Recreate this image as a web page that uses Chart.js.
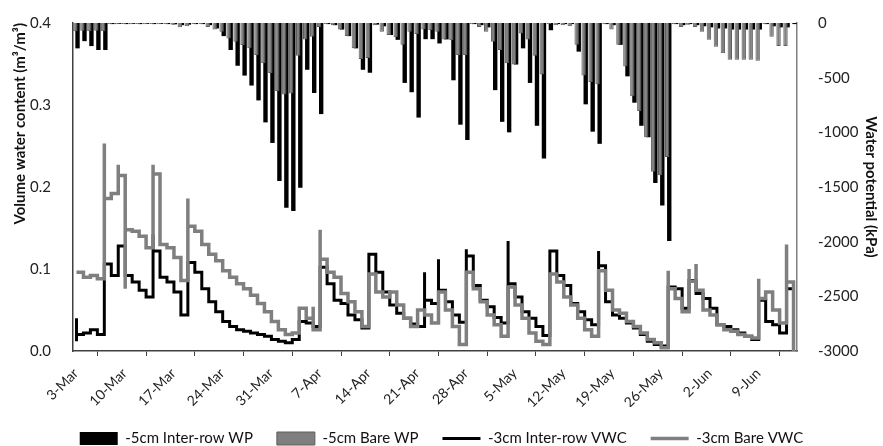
<!DOCTYPE html>
<html>
<head>
<meta charset="utf-8">
<script src="https://cdn.jsdelivr.net/npm/chart.js@4.4.1/dist/chart.umd.min.js"></script>
<style>
  html, body { margin: 0; padding: 0; background: #fff; }
  #wrap { width: 883px; height: 446px; }
</style>
</head>
<body>
<div id="wrap"><canvas id="soilChart" width="883" height="446"></canvas></div>
<script>
// x axis: one slot per day, 3-Mar .. 14-Jun, labelled weekly
const tickLabels = ["3-Mar", "10-Mar", "17-Mar", "24-Mar", "31-Mar", "7-Apr", "14-Apr", "21-Apr",
    "28-Apr", "5-May", "12-May", "19-May", "26-May", "2-Jun", "9-Jun"];
const daysPerTick = 7;
const dayCount = 104;

// -5cm water potential (kPa), one value per day, week by week
const wpInterRow = [
    -232, -166, -211, -247, -247, -10, -8,
    -10, -8, -10, -8, -10, -8, -10,
    -12, -20, -15, -10, -10, -20, -50,
    -120, -247, -391, -481, -572, -708, -909,
    -1097, -1446, -1690, -1720, -1506, -428, -640,
    -833, -10, -20, -60, -120, -232, -428,
    -455, -15, -30, -110, -154, -548, -633,
    -865, -148, -148, -187, -150, -524, -930,
    -1070, -10, -20, -40, -614, -904, -1000,
    -380, -232, -548, -940, -1240, -66, -10,
    -10, -10, -262, -744, -994, -1105, -10,
    -20, -200, -488, -729, -940, -1045, -1464,
    -1669, -1994, -10, -20, -10, -20, -30,
    -40, -50, -50, -60, -60, -60, -60,
    -60, -10, -30, -40, -40, -10
];
const wpBare = [
    -75, -70, -75, -70, -75, -10, -12,
    -10, -12, -10, -12, -10, -12, -10,
    -15, -40, -30, -10, -10, -36, -60,
    -81, -142, -172, -202, -232, -292, -367,
    -457, -623, -653, -644, -300, -150, -126,
    -36, -10, -20, -60, -120, -232, -330,
    -320, -20, -81, -110, -130, -200, -80,
    -100, -60, -66, -80, -150, -157, -292,
    -292, -10, -36, -81, -172, -247, -367,
    -380, -96, -150, -300, -470, -10, -20,
    -20, -30, -200, -480, -540, -560, -10,
    -60, -200, -398, -669, -804, -1045, -1361,
    -1392, -1226, -10, -36, -15, -36, -81,
    -154, -217, -277, -337, -337, -337, -337,
    -346, -10, -126, -211, -211, 0
];

// -3cm volumetric water content (m3/m3), end-of-day value
const vwcInterRow = [
    0.020, 0.022, 0.026, 0.020, 0.106, 0.092, 0.128,
    0.092, 0.084, 0.074, 0.066, 0.122, 0.090, 0.084,
    0.072, 0.044, 0.108, 0.096, 0.076, 0.060, 0.048,
    0.036, 0.030, 0.026, 0.024, 0.022, 0.020, 0.018,
    0.014, 0.012, 0.010, 0.014, 0.036, 0.034, 0.030,
    0.102, 0.082, 0.062, 0.058, 0.044, 0.038, 0.028,
    0.118, 0.096, 0.072, 0.056, 0.046, 0.040, 0.033,
    0.030, 0.062, 0.058, 0.074, 0.060, 0.044, 0.035,
    0.116, 0.080, 0.062, 0.054, 0.041, 0.034, 0.082,
    0.066, 0.048, 0.040, 0.030, 0.019, 0.122, 0.092,
    0.080, 0.058, 0.048, 0.038, 0.032, 0.104, 0.060,
    0.044, 0.040, 0.034, 0.028, 0.020, 0.012, 0.008,
    0.006, 0.078, 0.076, 0.052, 0.086, 0.070, 0.064,
    0.052, 0.032, 0.030, 0.026, 0.022, 0.018, 0.014,
    0.062, 0.036, 0.032, 0.022, 0.076, 0.076
];
const vwcBare = [
    0.096, 0.090, 0.092, 0.088, 0.186, 0.192, 0.214,
    0.148, 0.146, 0.140, 0.126, 0.216, 0.130, 0.126,
    0.114, 0.086, 0.152, 0.146, 0.130, 0.118, 0.110,
    0.098, 0.090, 0.082, 0.076, 0.068, 0.058, 0.048,
    0.036, 0.026, 0.020, 0.022, 0.052, 0.040, 0.026,
    0.112, 0.096, 0.090, 0.070, 0.060, 0.048, 0.030,
    0.094, 0.072, 0.066, 0.072, 0.056, 0.040, 0.030,
    0.050, 0.044, 0.034, 0.072, 0.050, 0.030, 0.008,
    0.096, 0.076, 0.060, 0.044, 0.032, 0.018, 0.078,
    0.056, 0.040, 0.022, 0.012, 0.008, 0.094, 0.084,
    0.066, 0.056, 0.040, 0.026, 0.018, 0.098, 0.074,
    0.050, 0.046, 0.036, 0.030, 0.022, 0.014, 0.010,
    0.004, 0.076, 0.064, 0.048, 0.085, 0.074, 0.050,
    0.044, 0.032, 0.026, 0.024, 0.020, 0.018, 0.016,
    0.064, 0.072, 0.050, 0.034, 0.084, 0.000
];

// readings inside a day before its closing value: [day index, vwc]
const vwcInterRowIntraday = [[0, 0.012], [0, 0.040], [11, 0.142], [50, 0.096], [52, 0.112],
    [56, 0.124], [62, 0.134], [75, 0.122]];
const vwcBareIntraday = [[4, 0.253], [6, 0.227], [7, 0.210], [7, 0.076], [11, 0.227], [16, 0.186],
    [34, 0.054], [35, 0.148], [85, 0.098], [88, 0.100], [89, 0.106], [98, 0.088], [102, 0.130],
    [103, 0.084]];

const tickDays = tickLabels.map((_, i) => i * daysPerTick);

function dayPoints(values) {
    return values.map((v, d) => ({ x: d + 0.5, y: v }));
}

function stepPoints(values, intraday) {
    const pts = [];
    values.forEach((v, d) => {
        intraday.forEach(([day, r]) => {
            if (day === d) pts.push({ x: d + 0.5, y: r });
        });
        pts.push({ x: d + 0.5, y: v });
    });
    return pts;
}

Chart.defaults.font.family = "Lato, 'Open Sans', sans-serif";
Chart.defaults.color = "#222";

new Chart(document.getElementById("soilChart"), {
    type: "bar",
    data: {
        datasets: [{
            label: "-5cm Inter-row WP",
            data: dayPoints(wpInterRow),
            yAxisID: "y2",
            backgroundColor: "#000",
            borderColor: "#000",
            borderWidth: 0,
            pointStyle: "rect",
            categoryPercentage: 0.6,
            barPercentage: 2.1,
            order: 3
        }, {
            label: "-5cm Bare WP",
            data: dayPoints(wpBare),
            yAxisID: "y2",
            backgroundColor: "#7f7f7f",
            borderColor: "#5e5e5e",
            borderWidth: 1,
            pointStyle: "rect",
            categoryPercentage: 0.6,
            barPercentage: 2.1,
            order: 2
        }, {
            type: "line",
            label: "-3cm Inter-row VWC",
            data: stepPoints(vwcInterRow, vwcInterRowIntraday),
            yAxisID: "y",
            borderColor: "#000",
            backgroundColor: "#000",
            borderWidth: 3,
            stepped: true,
            pointRadius: 0,
            pointStyle: "line",
            fill: false,
            order: 1
        }, {
            type: "line",
            label: "-3cm Bare VWC",
            data: stepPoints(vwcBare, vwcBareIntraday),
            yAxisID: "y",
            borderColor: "#7f7f7f",
            backgroundColor: "#7f7f7f",
            borderWidth: 3.5,
            stepped: true,
            pointRadius: 0,
            pointStyle: "line",
            fill: false,
            order: 0
        }]
    },
    options: {
        responsive: false,
        animation: false,
        layout: { padding: { top: 16, left: 0, right: 0, bottom: -10 } },
        plugins: {
            tooltip: { enabled: false },
            legend: {
                position: "bottom",
                labels: {
                    usePointStyle: true,
                    pointStyleWidth: 38,
                    boxHeight: 13,
                    padding: 24,
                    color: "#111",
                    font: { size: 15 },
                    sort: (a, b) => a.datasetIndex - b.datasetIndex
                }
            }
        },
        scales: {
            x: {
                type: "linear",
                min: 0,
                max: dayCount,
                offset: false,
                afterBuildTicks: (scale) => {
                    scale.ticks = tickDays.map((v) => ({ value: v }));
                },
                afterFit: (scale) => { scale.height = 56; },
                ticks: {
                    autoSkip: false,
                    minRotation: 45,
                    maxRotation: 45,
                    padding: 9,
                    labelOffset: 3,
                    font: { size: 14 },
                    callback: (value) => tickLabels[tickDays.indexOf(value)]
                },
                grid: {
                    display: true,
                    drawOnChartArea: false,
                    drawTicks: true,
                    tickLength: 5,
                    color: "#404040"
                },
                border: { display: true, color: "#404040", width: 1.5 }
            },
            y: {
                position: "left",
                min: 0,
                max: 0.4,
                afterFit: (scale) => { scale.width = 73; },
                ticks: {
                    stepSize: 0.1,
                    padding: 14,
                    font: { size: 15 },
                    callback: (value) => value.toFixed(1)
                },
                grid: { display: false },
                border: { display: true, color: "#404040", width: 1.5 },
                title: {
                    display: true,
                    text: "Volume water content (m³/m³)",
                    align: "end",
                    color: "#111",
                    font: { size: 15, weight: "bold" },
                    padding: { top: 11, bottom: 0 }
                }
            },
            y2: {
                position: "right",
                min: -3000,
                max: 0,
                afterFit: (scale) => { scale.width = 86; },
                ticks: {
                    stepSize: 500,
                    padding: 13,
                    font: { size: 15 },
                    callback: (value) => String(value)
                },
                grid: { display: false },
                border: { display: true, color: "#808080", width: 1.5 },
                title: {
                    display: true,
                    text: "Water potential (kPa)",
                    color: "#111",
                    font: { size: 15, weight: "bold" },
                    padding: { top: 3, bottom: 0 }
                }
            }
        }
    }
});
</script>
</body>
</html>
